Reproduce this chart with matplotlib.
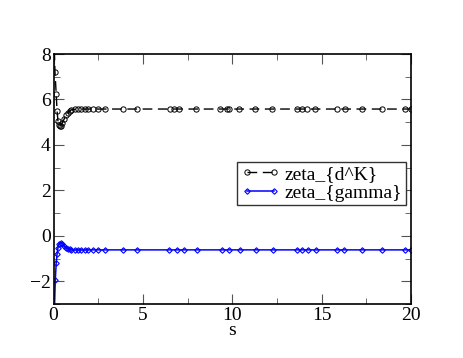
import matplotlib
matplotlib.use('Agg')
import matplotlib.pyplot as plt
from matplotlib.ticker import MultipleLocator

# s grid (solver steps) and values
s_dk = [0.0, 0.08, 0.15, 0.2, 0.25, 0.3, 0.35, 0.4, 0.5, 0.6, 0.7, 0.8, 0.9, 1.0,
        1.18, 1.37, 1.55, 1.74, 1.93, 2.2, 2.5, 2.86, 3.88, 4.66, 6.52, 6.76, 7.04,
        8.0, 9.31, 9.69, 9.83, 10.4, 11.3, 12.25, 13.6, 13.9, 14.2, 14.65, 15.85,
        16.3, 17.25, 18.4, 19.65, 20.0]
zeta_dk = [9.5, 7.22, 6.25, 5.48, 5.04, 4.88, 4.82, 4.85, 4.98, 5.15, 5.3, 5.42, 5.5, 5.54,
           5.57, 5.58, 5.58, 5.58, 5.58, 5.58, 5.58, 5.58, 5.58, 5.58, 5.58, 5.58, 5.58,
           5.58, 5.58, 5.58, 5.58, 5.58, 5.58, 5.58, 5.58, 5.58, 5.58, 5.58, 5.58,
           5.58, 5.58, 5.58, 5.58, 5.58]

s_g = [0.0, 0.1, 0.15, 0.2, 0.25, 0.3, 0.4, 0.5, 0.6, 0.7, 0.8, 0.9, 1.0,
       1.18, 1.37, 1.55, 1.74, 1.93, 2.2, 2.5, 2.86, 3.88, 4.66, 6.48, 6.89, 7.32,
       8.03, 9.44, 9.82, 10.43, 11.33, 12.26, 13.64, 13.92, 14.22, 14.67, 15.88,
       16.27, 17.28, 18.4, 19.66, 20.0]
zeta_g = [-4.5, -1.94, -1.21, -0.78, -0.52, -0.38, -0.3, -0.35, -0.45, -0.52, -0.57, -0.6, -0.61,
          -0.62, -0.62, -0.62, -0.62, -0.62, -0.62, -0.62, -0.62, -0.62, -0.62, -0.62, -0.62, -0.62,
          -0.62, -0.62, -0.62, -0.62, -0.62, -0.62, -0.62, -0.62, -0.62, -0.62, -0.62,
          -0.62, -0.62, -0.62, -0.62, -0.62]

plt.rcParams['font.family'] = ['Liberation Serif', 'DejaVu Serif']
plt.rcParams['font.size'] = 14

fig = plt.figure(figsize=(4.63, 3.58), dpi=100)
ax = fig.add_axes([0.1156, 0.151, 0.772, 0.698])

ax.plot(s_dk, zeta_dk, color='black', lw=1, dashes=(7, 4), marker='o', ms=3.8,
        mfc='none', mec='black', mew=0.7, label='zeta_{d^K}')
ax.plot(s_g, zeta_g, color='#0000ff', lw=1.1, marker='D', ms=2.8,
        mfc='none', mec='#0000ff', mew=0.8, label='zeta_{gamma}')

ax.set_xlim(0, 20)
ax.set_ylim(-3, 8)
ax.xaxis.set_major_locator(MultipleLocator(5))
ax.xaxis.set_minor_locator(MultipleLocator(2.5))
ax.yaxis.set_major_locator(MultipleLocator(2))
ax.yaxis.set_minor_locator(MultipleLocator(1))
ax.tick_params(which='both', direction='in', top=True, right=True, color='#555555')
ax.tick_params(which='major', length=7, pad=2)
ax.tick_params(which='minor', length=4)
for sp in ax.spines.values():
	sp.set_linewidth(1.2)
ax.set_xlabel('s', labelpad=-1)

ax.legend(loc='upper right', bbox_to_anchor=(0.985, 0.57), frameon=True, fancybox=False,
          edgecolor='#333333', framealpha=1, numpoints=2, handlelength=2.0,
          handletextpad=0.2, borderpad=0.2, labelspacing=0.05, borderaxespad=0)

fig.savefig('out.png', dpi=100)
